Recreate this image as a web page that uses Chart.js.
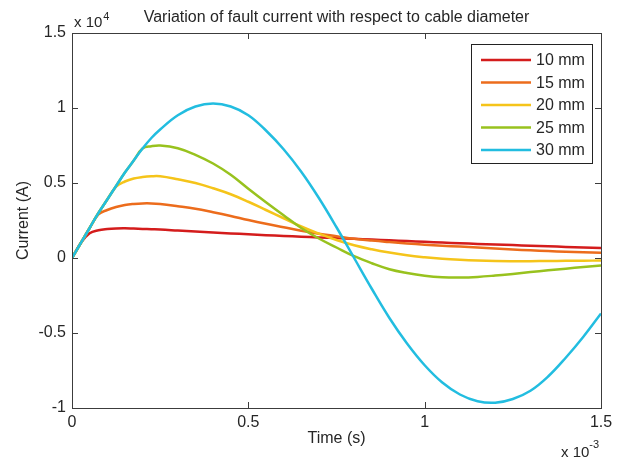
<!DOCTYPE html>
<html>
<head>
<meta charset="utf-8">
<title>Fault current vs cable diameter</title>
<script src="https://cdn.jsdelivr.net/npm/chart.js@4"></script>
<style>
  html, body { margin: 0; padding: 0; background: #fff; }
</style>
</head>
<body>
<canvas id="faultChart" width="624" height="459"></canvas>
<script>
// time samples (x 10^-3 s)
var timeMs = [0, 0.025, 0.05, 0.075, 0.1, 0.125, 0.15, 0.175, 0.2, 0.225, 0.25,
  0.3, 0.35, 0.4, 0.45, 0.5, 0.55, 0.6, 0.65, 0.7, 0.75, 0.8, 0.85, 0.9, 0.95,
  1.0, 1.05, 1.1, 1.15, 1.2, 1.25, 1.3, 1.35, 1.4, 1.45, 1.5];

var diameters = ['10 mm', '15 mm', '20 mm', '25 mm', '30 mm'];

// fault current per cable diameter (x 10^4 A)
var current10 = [0, 0.10, 0.165, 0.185, 0.193, 0.197, 0.198, 0.196, 0.194, 0.192, 0.19,
  0.183, 0.176, 0.17, 0.164, 0.158, 0.152, 0.147, 0.142, 0.137, 0.133, 0.128, 0.123, 0.118, 0.113,
  0.108, 0.103, 0.098, 0.094, 0.09, 0.086, 0.082, 0.078, 0.074, 0.07, 0.066];
var current15 = [0, 0.10, 0.20, 0.29, 0.32, 0.34, 0.353, 0.36, 0.364, 0.364, 0.36,
  0.345, 0.328, 0.305, 0.28, 0.253, 0.228, 0.205, 0.182, 0.162, 0.145, 0.128, 0.116, 0.106, 0.097,
  0.089, 0.082, 0.076, 0.07, 0.063, 0.057, 0.051, 0.046, 0.042, 0.038, 0.035];
var current20 = [0, 0.10, 0.20, 0.30, 0.39, 0.475, 0.51, 0.53, 0.54, 0.545, 0.545,
  0.525, 0.50, 0.465, 0.425, 0.375, 0.32, 0.265, 0.21, 0.162, 0.12, 0.085, 0.058, 0.036, 0.018,
  0.005, -0.005, -0.012, -0.017, -0.02, -0.021, -0.021, -0.02, -0.019, -0.018, -0.017];
var current25 = [0, 0.10, 0.20, 0.30, 0.39, 0.48, 0.57, 0.65, 0.73, 0.745, 0.75,
  0.732, 0.688, 0.63, 0.555, 0.462, 0.372, 0.285, 0.2, 0.13, 0.07, 0.012, -0.035, -0.075, -0.1,
  -0.118, -0.128, -0.13, -0.126, -0.117, -0.106, -0.094, -0.082, -0.071, -0.06, -0.05];
var current30 = [0, 0.10, 0.20, 0.30, 0.39, 0.48, 0.57, 0.65, 0.73, 0.80, 0.857,
  0.952, 1.01, 1.03, 1.01, 0.952, 0.85, 0.725, 0.575, 0.40, 0.205, 0.0, -0.205, -0.40, -0.57,
  -0.715, -0.83, -0.91, -0.955, -0.965, -0.94, -0.885, -0.79, -0.665, -0.525, -0.37];

var allCurrents = [current10, current15, current20, current25, current30];
var lineColors = ['#d41c1c', '#ec6c1c', '#f5c41a', '#98c21e', '#22bde0'];

var xTicks = [0, 0.5, 1, 1.5];
var yTicks = [-1, -0.5, 0, 0.5, 1, 1.5];

var chartTitle = 'Variation of fault current with respect to cable diameter';
var fontFamily = '"Liberation Sans", Arial, sans-serif';
var textColor = '#262626';
var axisColor = '#3c3c3c';

// title, box round the plot, inward tick marks, legend and the axis multipliers
var framePlugin = {
  id: 'frame',
  afterDatasetsDraw: function(chart) {
    var ctx = chart.ctx;
    var a = chart.chartArea;
    var xs = chart.scales.x;
    var ys = chart.scales.y;
    ctx.save();

    ctx.fillStyle = textColor;
    ctx.font = '16px ' + fontFamily;
    ctx.textAlign = 'center';
    ctx.textBaseline = 'alphabetic';
    ctx.fillText(chartTitle, (a.left + a.right) / 2, 22);

    ctx.strokeStyle = axisColor;
    ctx.lineWidth = 1;
    ctx.strokeRect(Math.round(a.left) + 0.5, Math.round(a.top) + 0.5,
      Math.round(a.right - a.left), Math.round(a.bottom - a.top));

    ctx.beginPath();
    xs.ticks.forEach(function(t) {
      var px = Math.round(xs.getPixelForValue(t.value)) + 0.5;
      ctx.moveTo(px, a.bottom); ctx.lineTo(px, a.bottom - 6);
      ctx.moveTo(px, a.top); ctx.lineTo(px, a.top + 6);
    });
    ys.ticks.forEach(function(t) {
      var py = Math.round(ys.getPixelForValue(t.value)) + 0.5;
      ctx.moveTo(a.left, py); ctx.lineTo(a.left + 6, py);
      ctx.moveTo(a.right, py); ctx.lineTo(a.right - 6, py);
    });
    ctx.stroke();

    // legend
    var bx = Math.round(a.right) - 130, by = Math.round(a.top) + 11;
    var bw = 121, bh = 119;
    ctx.fillStyle = '#fff';
    ctx.fillRect(bx, by, bw, bh);
    ctx.strokeStyle = '#222';
    ctx.strokeRect(bx + 0.5, by + 0.5, bw, bh);
    ctx.font = '16px ' + fontFamily;
    ctx.textBaseline = 'middle';
    ctx.textAlign = 'left';
    chart.data.datasets.forEach(function(ds, i) {
      var ly = by + 16 + i * 22.5;
      ctx.strokeStyle = ds.borderColor;
      ctx.lineWidth = 2.5;
      ctx.beginPath();
      ctx.moveTo(bx + 10, ly); ctx.lineTo(bx + 60, ly);
      ctx.stroke();
      ctx.fillStyle = textColor;
      ctx.fillText(ds.label, bx + 65, ly + 1);
    });

    // exponent labels
    ctx.fillStyle = textColor;
    ctx.textBaseline = 'alphabetic';
    ctx.font = '15px ' + fontFamily;
    var base = 'x 10';
    var w = ctx.measureText(base).width;
    ctx.fillText(base, a.left + 2, 27);
    ctx.fillText(base, a.right - 40, 457);
    ctx.font = '11px ' + fontFamily;
    ctx.fillText('4', a.left + 2 + w + 1, 20);
    ctx.fillText('-3', a.right - 40 + w, 448);
    ctx.restore();
  }
};

new Chart(document.getElementById('faultChart'), {
  type: 'line',
  data: {
    datasets: diameters.map(function(name, i) {
      return {
        label: name,
        data: timeMs.map(function(t, k) { return { x: t, y: allCurrents[i][k] }; }),
        borderColor: lineColors[i],
        borderWidth: 2.5,
        pointRadius: 0,
        fill: false,
        tension: 0.4,
        order: diameters.length - 1 - i
      };
    })
  },
  options: {
    responsive: false,
    animation: false,
    layout: { autoPadding: false, padding: { top: 33, right: 23, bottom: 0, left: 0 } },
    plugins: {
      legend: { display: false },
      tooltip: { enabled: false },
      title: { display: false }
    },
    scales: {
      x: {
        type: 'linear',
        min: 0,
        max: 1.5,
        afterBuildTicks: function(s) { s.ticks = xTicks.map(function(v) { return { value: v }; }); },
        afterFit: function(s) { s.height = 51; },
        grid: { display: false, drawTicks: false },
        border: { display: false },
        ticks: {
          color: textColor,
          font: { family: fontFamily, size: 16 },
          padding: 5,
          maxRotation: 0,
          autoSkip: false,
          callback: function(v) { return String(v); }
        },
        title: {
          display: true,
          text: 'Time (s)',
          color: textColor,
          font: { family: fontFamily, size: 16 },
          padding: { top: 0, bottom: 10.4 }
        }
      },
      y: {
        type: 'linear',
        min: -1,
        max: 1.5,
        afterBuildTicks: function(s) { s.ticks = yTicks.map(function(v) { return { value: v }; }); },
        afterFit: function(s) { s.width = 72; },
        grid: { display: false, drawTicks: false },
        border: { display: false },
        ticks: {
          color: textColor,
          font: { family: fontFamily, size: 16 },
          padding: 6,
          autoSkip: false,
          callback: function(v) { return String(v); }
        },
        title: {
          display: true,
          text: 'Current (A)',
          color: textColor,
          font: { family: fontFamily, size: 16 },
          padding: { top: 14.4, bottom: 0 }
        }
      }
    }
  },
  plugins: [framePlugin]
});
</script>
</body>
</html>
